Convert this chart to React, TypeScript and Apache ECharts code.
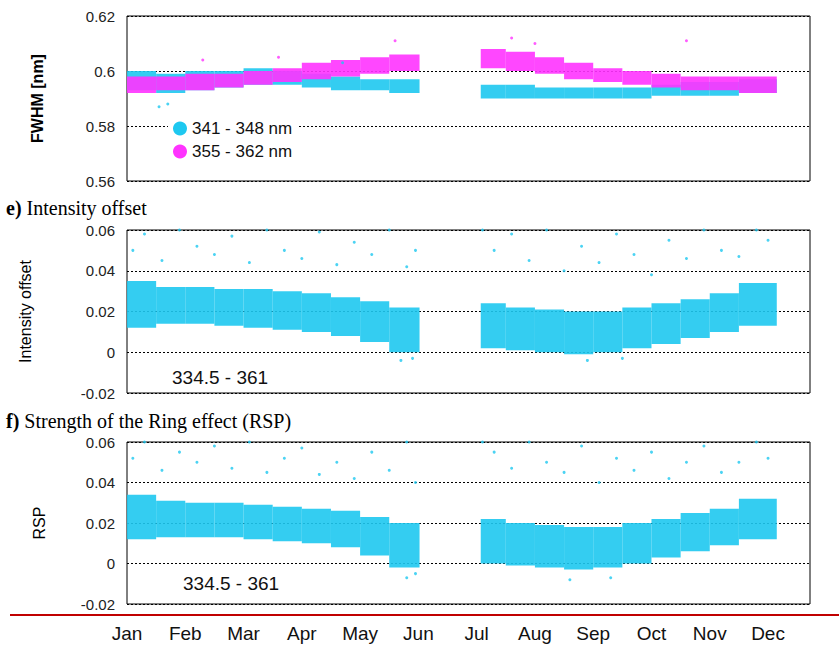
import { useEffect, useRef } from "react";
import * as echarts from "echarts";

const months = ["Jan", "Feb", "Mar", "Apr", "May", "Jun", "Jul", "Aug", "Sep", "Oct", "Nov", "Dec"];

// bins: [startMonth, endMonth, low, high]
const fwhmBlue = [
  [0, 0.5, 0.593, 0.6], [0.5, 1, 0.592, 0.599], [1, 1.5, 0.593, 0.6], [1.5, 2, 0.594, 0.6],
  [2, 2.5, 0.595, 0.601], [2.5, 3, 0.595, 0.6], [3, 3.5, 0.594, 0.599], [3.5, 4, 0.593, 0.598],
  [4, 4.5, 0.593, 0.597], [4.5, 5.02, 0.592, 0.597],
  [6.07, 6.5, 0.59, 0.595], [6.5, 7, 0.59, 0.595], [7, 7.5, 0.59, 0.594], [7.5, 8, 0.59, 0.594],
  [8, 8.5, 0.59, 0.594], [8.5, 9, 0.59, 0.594], [9, 9.5, 0.591, 0.595], [9.5, 10, 0.591, 0.596],
  [10, 10.5, 0.591, 0.596], [10.5, 11.15, 0.592, 0.597],
];
const fwhmPink = [
  [0, 0.5, 0.592, 0.598], [0.5, 1, 0.593, 0.598], [1, 1.5, 0.593, 0.599], [1.5, 2, 0.594, 0.599],
  [2, 2.5, 0.595, 0.6], [2.5, 3, 0.596, 0.601], [3, 3.5, 0.597, 0.603], [3.5, 4, 0.598, 0.604],
  [4, 4.5, 0.599, 0.605], [4.5, 5.02, 0.6, 0.606],
  [6.07, 6.5, 0.601, 0.608], [6.5, 7, 0.6, 0.607], [7, 7.5, 0.599, 0.605], [7.5, 8, 0.597, 0.603],
  [8, 8.5, 0.596, 0.601], [8.5, 9, 0.595, 0.6], [9, 9.5, 0.594, 0.599], [9.5, 10, 0.593, 0.598],
  [10, 10.5, 0.593, 0.598], [10.5, 11.15, 0.592, 0.598],
];
const offsetBand = [
  [0, 0.5, 0.012, 0.035], [0.5, 1, 0.014, 0.032], [1, 1.5, 0.014, 0.032], [1.5, 2, 0.013, 0.031],
  [2, 2.5, 0.012, 0.031], [2.5, 3, 0.011, 0.03], [3, 3.5, 0.01, 0.029], [3.5, 4, 0.008, 0.027],
  [4, 4.5, 0.005, 0.025], [4.5, 5.02, 0.0, 0.022],
  [6.07, 6.5, 0.002, 0.024], [6.5, 7, 0.001, 0.022], [7, 7.5, 0.0, 0.021], [7.5, 8, -0.001, 0.02],
  [8, 8.5, 0.0, 0.02], [8.5, 9, 0.002, 0.022], [9, 9.5, 0.004, 0.024], [9.5, 10, 0.007, 0.026],
  [10, 10.5, 0.01, 0.029], [10.5, 11.15, 0.013, 0.034],
];
const rspBand = [
  [0, 0.5, 0.012, 0.034], [0.5, 1, 0.013, 0.031], [1, 1.5, 0.013, 0.03], [1.5, 2, 0.013, 0.03],
  [2, 2.5, 0.012, 0.029], [2.5, 3, 0.011, 0.028], [3, 3.5, 0.01, 0.027], [3.5, 4, 0.008, 0.026],
  [4, 4.5, 0.004, 0.023], [4.5, 5.02, -0.002, 0.02],
  [6.07, 6.5, 0.0, 0.022], [6.5, 7, -0.001, 0.02], [7, 7.5, -0.002, 0.019], [7.5, 8, -0.003, 0.018],
  [8, 8.5, -0.002, 0.018], [8.5, 9, 0.0, 0.02], [9, 9.5, 0.003, 0.022], [9.5, 10, 0.006, 0.025],
  [10, 10.5, 0.009, 0.027], [10.5, 11.15, 0.012, 0.032],
];
// sparse outliers [month, value]
const offsetSpikes = [
  [0.1, 0.05], [0.3, 0.058], [0.6, 0.045], [0.9, 0.06], [1.2, 0.052], [1.5, 0.048], [1.8, 0.057],
  [2.1, 0.044], [2.4, 0.06], [2.7, 0.05], [3.0, 0.046], [3.3, 0.059], [3.6, 0.043], [3.9, 0.054],
  [4.2, 0.048], [4.5, 0.06], [4.8, 0.042], [4.95, 0.05], [4.7, -0.004], [4.9, -0.003],
  [6.1, 0.06], [6.3, 0.05], [6.6, 0.058], [6.9, 0.045], [7.2, 0.06], [7.5, 0.04], [7.8, 0.052],
  [8.1, 0.044], [8.4, 0.058], [8.7, 0.048], [9.0, 0.038], [9.3, 0.055], [9.6, 0.046], [9.9, 0.06],
  [10.2, 0.05], [10.5, 0.047], [10.8, 0.06], [11.0, 0.055], [7.9, -0.004], [8.5, -0.003],
];
const rspSpikes = [
  [0.1, 0.052], [0.3, 0.06], [0.6, 0.046], [0.9, 0.055], [1.2, 0.05], [1.5, 0.058], [1.8, 0.047],
  [2.1, 0.06], [2.4, 0.045], [2.7, 0.052], [3.0, 0.057], [3.3, 0.044], [3.6, 0.05], [3.9, 0.042],
  [4.2, 0.055], [4.5, 0.046], [4.8, 0.06], [4.95, 0.04], [4.8, -0.007], [4.95, -0.005],
  [6.1, 0.06], [6.3, 0.055], [6.6, 0.047], [6.9, 0.06], [7.2, 0.05], [7.5, 0.045], [7.8, 0.058],
  [8.1, 0.04], [8.4, 0.052], [8.7, 0.046], [9.0, 0.055], [9.3, 0.042], [9.6, 0.05], [9.9, 0.058],
  [10.2, 0.045], [10.5, 0.05], [10.8, 0.06], [11.0, 0.052], [7.6, -0.008], [8.3, -0.007],
];
const fwhmPinkSpikes = [[1.3, 0.604], [2.6, 0.605], [4.6, 0.611], [6.6, 0.612], [7.0, 0.61], [9.6, 0.611]];
const fwhmBlueSpikes = [[0.55, 0.587], [0.7, 0.588], [3.7, 0.603]];

const BLUE = "#1ec8f0";
const PINK = "#ff33ff";

const band = (data: number[][], color: string, idx: number) => ({
  type: "custom",
  xAxisIndex: idx,
  yAxisIndex: idx,
  data,
  renderItem: (_p: unknown, api: any) => {
    const a = api.coord([api.value(0), api.value(3)]);
    const b = api.coord([api.value(1), api.value(2)]);
    return {
      type: "rect",
      shape: { x: a[0], y: a[1], width: b[0] - a[0], height: b[1] - a[1] },
      style: { fill: color, opacity: 0.9 },
    };
  },
});

const dots = (data: number[][], color: string, idx: number) => ({
  type: "scatter",
  xAxisIndex: idx,
  yAxisIndex: idx,
  data,
  symbolSize: 3,
  itemStyle: { color },
});

const FONT = "Liberation Sans";
const fmt = (v: number) => String(+v.toFixed(2));

export default function App() {
  const ref = useRef<HTMLDivElement>(null);

  useEffect(() => {
    if (!ref.current) return;
    const chart = echarts.init(ref.current, undefined, { renderer: "svg" });
    const grids = [
      { left: 127, right: 29, top: 16, height: 165 },
      { left: 127, right: 29, top: 230, height: 163 },
      { left: 127, right: 29, top: 442, height: 162 },
    ].map((g) => ({ ...g, show: true, borderColor: "#000", borderWidth: 1 }));
    const yRanges = [
      { min: 0.56, max: 0.62, name: "FWHM [nm]", gap: 82, bold: true },
      { min: -0.02, max: 0.06, name: "Intensity offset", gap: 94, bold: false },
      { min: -0.02, max: 0.06, name: "RSP", gap: 80, bold: false },
    ];
    chart.setOption({
      animation: false,
      textStyle: { fontFamily: FONT },
      grid: grids,
      xAxis: grids.map((_, i) => ({
        type: "value",
        gridIndex: i,
        min: 0,
        max: 11.72,
        interval: 1,
        axisLine: { show: false },
        axisTick: { show: false },
        splitLine: { show: false },
        axisLabel: {
          show: i === 2,
          margin: 20,
          fontSize: 19,
          color: "#111",
          formatter: (v: number) => months[Math.round(v)] ?? "",
        },
      })),
      yAxis: yRanges.map((r, i) => ({
        type: "value",
        gridIndex: i,
        min: r.min,
        max: r.max,
        interval: 0.02,
        name: r.name,
        nameLocation: "middle",
        nameGap: r.gap,
        nameTextStyle: { fontSize: 16, fontWeight: r.bold ? "bold" : "normal", color: "#000" },
        axisLine: { show: false },
        axisTick: { show: false },
        axisLabel: { fontSize: 15, color: "#222", formatter: fmt, margin: 12 },
        splitLine: { lineStyle: { color: "#000", type: [2, 2], width: 1 } },
      })),
      legend: {
        left: 168,
        top: 115,
        orient: "vertical",
        itemGap: 6,
        icon: "circle",
        itemWidth: 14,
        itemHeight: 14,
        backgroundColor: "#fff",
        textStyle: { fontSize: 17, color: "#111" },
        data: [
          { name: "341 - 348 nm", itemStyle: { color: BLUE } },
          { name: "355 - 362 nm", itemStyle: { color: PINK } },
        ],
      },
      graphic: [
        {
          type: "text",
          left: 6,
          top: 198,
          style: {
            text: "{b|e)} Intensity offset",
            font: "20px 'Liberation Serif'",
            fill: "#000",
            rich: { b: { fontWeight: "bold", fontSize: 20, fontFamily: "Liberation Serif" } },
          },
        },
        {
          type: "text",
          left: 6,
          top: 411,
          style: {
            text: "{b|f)} Strength of the Ring effect (RSP)",
            font: "20px 'Liberation Serif'",
            fill: "#000",
            rich: { b: { fontWeight: "bold", fontSize: 20, fontFamily: "Liberation Serif" } },
          },
        },
        { type: "text", left: 172, top: 368, style: { text: "334.5 - 361", font: `19px '${FONT}'`, fill: "#111" } },
        { type: "text", left: 183, top: 574, style: { text: "334.5 - 361", font: `19px '${FONT}'`, fill: "#111" } },
        { type: "line", shape: { x1: 10, y1: 615, x2: 839, y2: 615 }, style: { stroke: "#c00000", lineWidth: 2 } },
      ],
      series: [
        { ...band(fwhmBlue, BLUE, 0), name: "341 - 348 nm" },
        dots(fwhmBlueSpikes, BLUE, 0),
        { ...band(fwhmPink, PINK, 0), name: "355 - 362 nm" },
        dots(fwhmPinkSpikes, PINK, 0),
        band(offsetBand, BLUE, 1),
        dots(offsetSpikes, BLUE, 1),
        band(rspBand, BLUE, 2),
        dots(rspSpikes, BLUE, 2),
      ],
    });
    return () => chart.dispose();
  }, []);

  return <div ref={ref} style={{ position: "fixed", left: 0, top: 0, width: 839, height: 648, background: "#fff" }} />;
}
